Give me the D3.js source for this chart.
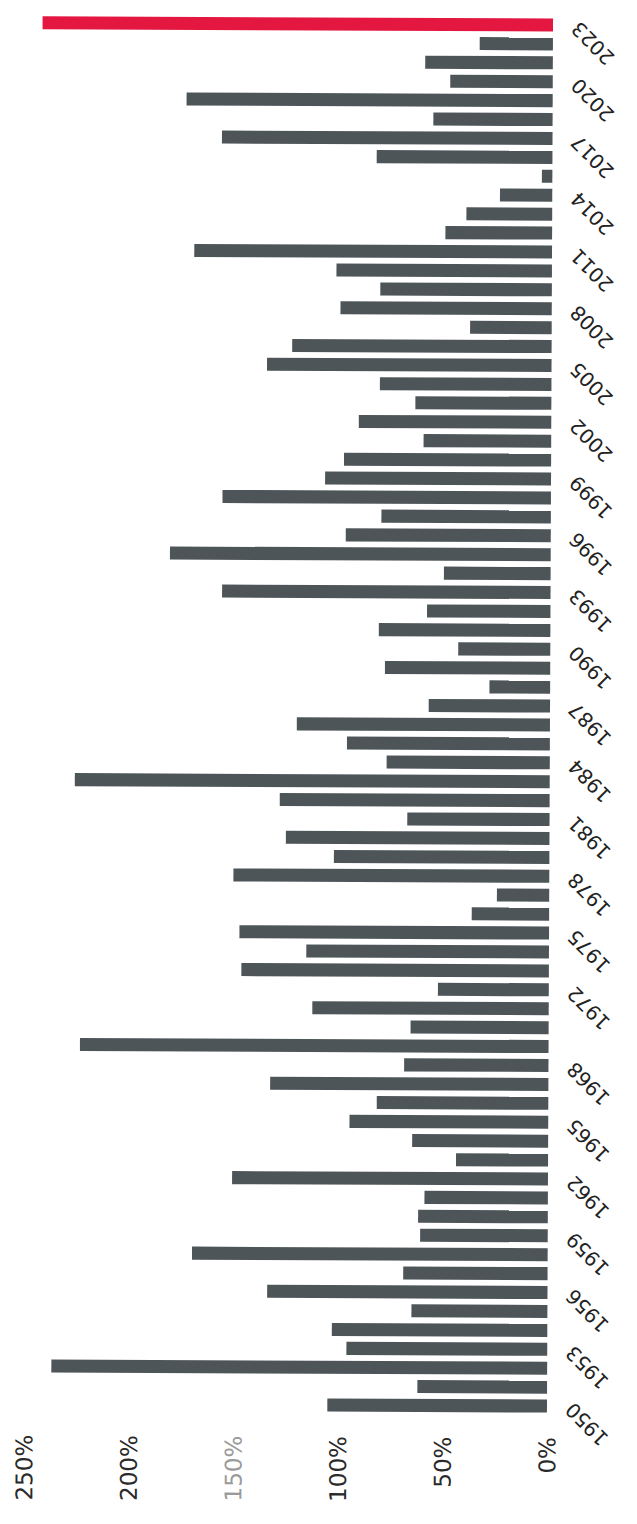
<!DOCTYPE html>
<html><head><meta charset="utf-8">
<script src="https://cdn.jsdelivr.net/npm/d3@7/dist/d3.min.js"></script>
<style>body{margin:0;background:#fff}svg{display:block}</style>
</head><body>
<svg id="chart" width="637" height="1524"></svg>
<script>
// ---- data ----
const years = [1950,1951,1952,1953,1954,1955,1956,1957,1958,1959,
  1960,1961,1962,1963,1964,1965,1966,1967,1968,1969,
  1970,1971,1972,1973,1974,1975,1976,1977,1978,1979,
  1980,1981,1982,1983,1984,1985,1986,1987,1988,1989,
  1990,1991,1992,1993,1994,1995,1996,1997,1998,1999,
  2000,2001,2002,2003,2004,2005,2006,2007,2008,2009,
  2010,2011,2012,2013,2014,2015,2016,2017,2018,2019,
  2020,2021,2022,2023];
const values = [105,62,237,96,103,65,134,69,170,61,
  62,59,151,44,65,95,82,133,69,224,
  66,113,53,147,116,148,37,25,151,103,
  126,68,129,227,78,97,121,58,29,79,
  44,82,59,157,51,182,98,81,157,108,
  99,61,92,65,82,136,124,39,101,82,
  103,171,51,41,25,5,84,158,57,175,
  49,61,35,244];
const highlightYear = 2023;
const yearTickLabels = [1950,1953,1956,1959,1962,1965,1968,1972,1975,1978,
  1981,1984,1987,1990,1993,1996,1999,2002,2005,2008,2011,2014,2017,2020,2023];
const pctTickValues = [0,50,100,150,200,250];

// ---- chart ----
const svg = d3.select("#chart");
const g = svg.append("g").attr("transform", "rotate(0.25, 550, 715)");

const baseX = 550;
const x = d3.scaleLinear().domain([0, 250]).range([baseX, 27]);
const y = d3.scaleBand()
  .domain(years.slice().reverse())
  .range([15.5, 1415.5])
  .paddingInner(0.31)
  .paddingOuter(0.155);

const data = years.map((yr, i) => ({year: yr, value: values[i]}));

g.selectAll("rect.bar").data(data).join("rect")
  .attr("class", "bar")
  .attr("x", d => x(d.value))
  .attr("y", d => y(d.year))
  .attr("width", d => x(0) - x(d.value))
  .attr("height", y.bandwidth())
  .attr("fill", d => d.year === highlightYear ? "#e3173f" : "#4e5558");

// year axis (right side of the baseline)
const yearAxis = d3.axisRight(y).tickValues(yearTickLabels).tickSize(0).tickPadding(0);
const ya = g.append("g").attr("transform", `translate(${baseX + 22},0)`).call(yearAxis);
ya.select(".domain").remove();
ya.selectAll("text")
  .attr("x", 0).attr("dy", null)
  .attr("transform", "rotate(-135)")
  .attr("text-anchor", "end")
  .attr("dy", "0.35em")
  .attr("font-family", "DejaVu Sans, Verdana, sans-serif")
  .attr("font-size", 20)
  .attr("fill", "#222");

// percent axis (bottom)
const pctAxis = d3.axisBottom(x).tickValues(pctTickValues).tickSize(0).tickPadding(0)
  .tickFormat(d => d + "%");
const pa = g.append("g").attr("transform", "translate(0,1437)").call(pctAxis);
pa.select(".domain").remove();
pa.selectAll("text")
  .attr("y", 0).attr("dy", "0.35em")
  .attr("transform", "rotate(-90)")
  .attr("text-anchor", "end")
  .attr("font-family", "DejaVu Sans, Verdana, sans-serif")
  .attr("font-size", 23)
  .attr("fill", d => d === 150 ? "#9a9a9a" : "#2a2a2a");
</script>
</body></html>
